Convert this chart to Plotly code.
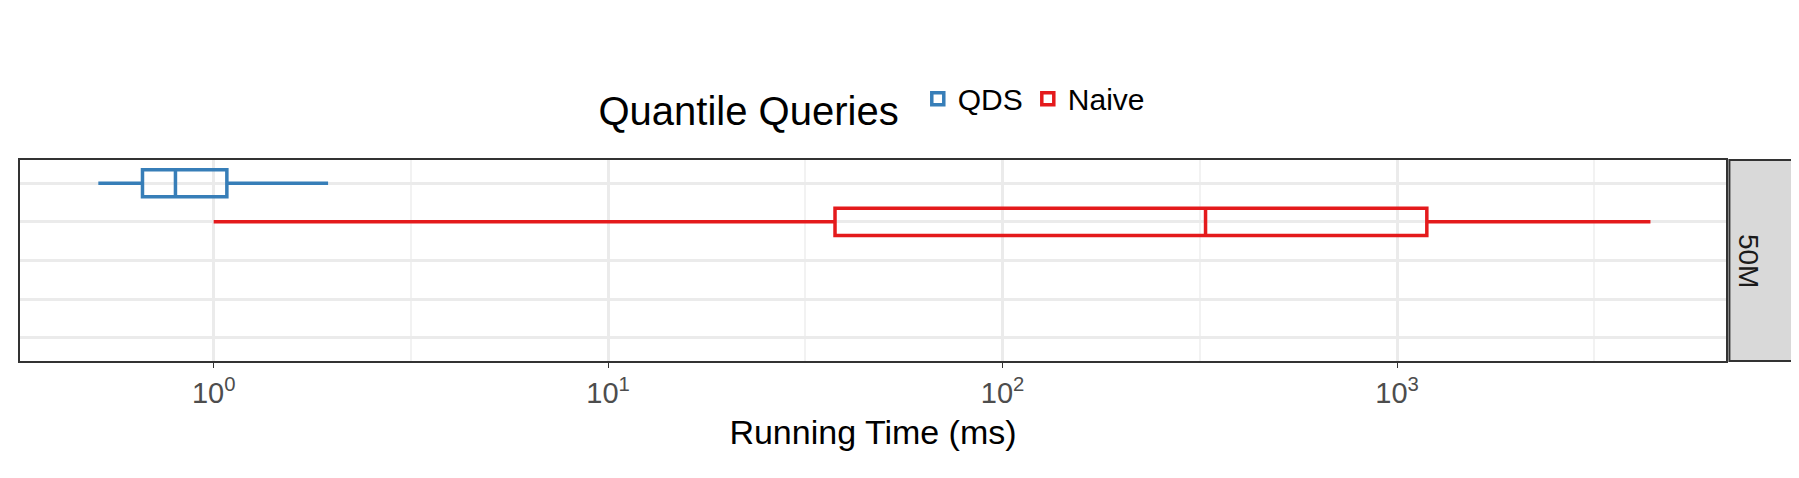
import plotly.graph_objects as go

# box statistics (ms)
series = ["QDS", "Naive"]
colors = ["#377EB8", "#E41A1C"]
rows = [1, 2]
lower = [0.51, 1.0]
q1 = [0.66, 37.6]
median = [0.80, 327]
q3 = [1.08, 1190]
upper = [1.95, 4390]

fig = go.Figure()
for i, name in enumerate(series):
    fig.add_trace(go.Box(
        name=name, orientation="h", y=[rows[i]],
        q1=[q1[i]], median=[median[i]], q3=[q3[i]],
        lowerfence=[lower[i]], upperfence=[upper[i]],
        width=0.7, whiskerwidth=0, boxpoints=False,
        line=dict(color=colors[i], width=3.5), fillcolor="rgba(255,255,255,0)",
    ))

fig.update_layout(
    width=1799, height=478, plot_bgcolor="white", paper_bgcolor="white",
    margin=dict(l=12, r=81, t=152, b=125),
    font=dict(family="Liberation Sans, Arial", color="black"),
    showlegend=True,
    legend=dict(orientation="h", x=0.5, xanchor="center", y=1.28, yanchor="middle",
                title=dict(text="Quantile Queries ", side="left", font=dict(size=40)),
                font=dict(size=30)),
    xaxis=dict(type="log", range=[-0.491, 3.834],
               tickvals=[1, 10, 100, 1000],
               ticktext=["10<sup>0</sup>", "10<sup>1</sup>", "10<sup>2</sup>", "10<sup>3</sup>"],
               tickfont=dict(size=29, color="#4D4D4D"), ticks="outside", ticklen=5,
               tickcolor="#333333",
               showgrid=True, gridcolor="#EBEBEB", gridwidth=2.5,
               minor=dict(tickvals=[10 ** 0.5, 10 ** 1.5, 10 ** 2.5, 10 ** 3.5],
                          showgrid=True, gridcolor="#F2F2F2", gridwidth=1.5, ticks=""),
               title=dict(text="Running Time (ms)", font=dict(size=34), standoff=12),
               showline=True, linecolor="#333333", linewidth=2, mirror=True, zeroline=False),
    yaxis=dict(range=[5.6, 0.4], tickvals=[1, 2, 3, 4, 5], showticklabels=False,
               showgrid=True, gridcolor="#EBEBEB", gridwidth=2.5,
               showline=True, linecolor="#333333", linewidth=2, mirror=True, zeroline=False),
)

# facet strip
fig.add_shape(type="rect", xref="paper", yref="paper", x0=1.002, x1=1.045, y0=0, y1=1,
              fillcolor="#D9D9D9", line=dict(color="#333333", width=2))
fig.add_annotation(text="50M", xref="paper", yref="paper", x=1.0235, y=0.5,
                   showarrow=False, textangle=90, font=dict(size=28, color="#1A1A1A"))

fig.write_html("out.html")
